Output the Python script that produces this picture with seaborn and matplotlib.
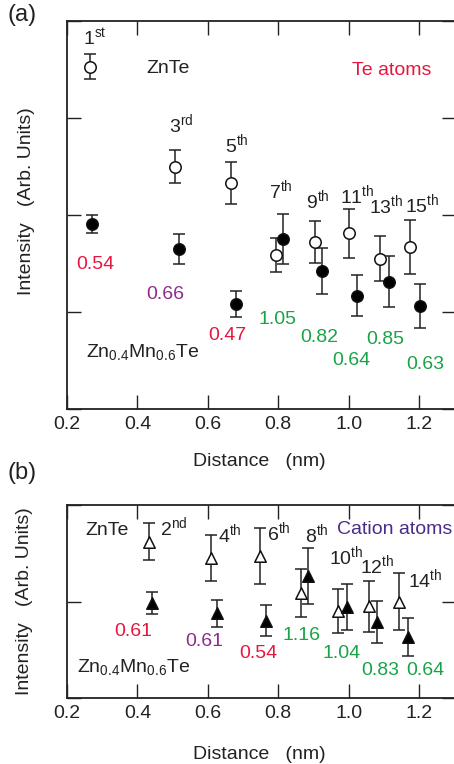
import matplotlib
matplotlib.use('Agg')
import matplotlib.pyplot as plt
import seaborn as sns

sns.set_style('ticks')
plt.rcParams['font.family'] = ['Liberation Sans', 'DejaVu Sans']
FS = 14
plt.rcParams['font.size'] = FS

# Te atoms (panel a)
te_x_znte = [0.265, 0.507, 0.667, 0.794, 0.904, 1.001, 1.090, 1.174]
te_y_znte = [3.53, 2.50, 2.33, 1.59, 1.725, 1.81, 1.55, 1.67]
te_err_znte = [0.13, 0.175, 0.215, 0.175, 0.216, 0.25, 0.23, 0.275]

te_x_mn = [0.270, 0.519, 0.680, 0.813, 0.924, 1.025, 1.116, 1.202]
te_y_mn = [1.91, 1.65, 1.085, 1.75, 1.42, 1.17, 1.31, 1.065]
te_err_mn = [0.093, 0.155, 0.134, 0.258, 0.235, 0.215, 0.263, 0.227]

te_shells = ['1^{st}', '3^{rd}', '5^{th}', '7^{th}', '9^{th}', '11^{th}', '13^{th}', '15^{th}']
te_ratios = ['0.54', '0.66', '0.47', '1.05', '0.82', '0.64', '0.85', '0.63']

# Cation atoms (panel b)
cat_x_znte = [0.433, 0.608, 0.748, 0.864, 0.971, 1.057, 1.144]
cat_y_znte = [1.62, 1.45, 1.47, 1.09, 0.90, 0.95, 1.00]
cat_err_znte = [0.19, 0.234, 0.29, 0.25, 0.23, 0.263, 0.30]

cat_x_mn = [0.442, 0.625, 0.765, 0.886, 0.994, 1.081, 1.169]
cat_y_mn = [0.985, 0.88, 0.80, 1.26, 0.945, 0.79, 0.635]
cat_err_mn = [0.11, 0.14, 0.16, 0.29, 0.24, 0.22, 0.195]

cat_shells = ['2^{nd}', '4^{th}', '6^{th}', '8^{th}', '10^{th}', '12^{th}', '14^{th}']
cat_ratios = ['0.61', '0.61', '0.54', '1.16', '1.04', '0.83', '0.64']

RED = '#e5173f'
PURPLE = '#8e2c8e'
GREEN = '#19a347'
INDIGO = '#4b2c8c'
INK = '#222222'
te_ratio_colors = [RED, PURPLE, RED, GREEN, GREEN, GREEN, GREEN, GREEN]
cat_ratio_colors = [RED, PURPLE, RED, GREEN, GREEN, GREEN, GREEN]

# where the labels sit (data coords)
te_shell_pos = [(0.28, 3.75), (0.524, 2.85), (0.683, 2.65), (0.808, 2.17), (0.913, 2.075),
                (1.025, 2.12), (1.106, 2.017), (1.208, 2.034)]
te_ratio_pos = [(0.28, 1.49), (0.478, 1.185), (0.654, 0.76), (0.799, 0.92), (0.916, 0.74),
                (1.009, 0.50), (1.105, 0.72), (1.219, 0.46)]
cat_shell_pos = [(0.504, 1.683), (0.663, 1.615), (0.802, 1.632), (0.91, 1.615),
                 (0.993, 1.385), (1.082, 1.29), (1.218, 1.15)]
cat_ratio_pos = [(0.388, 0.69), (0.589, 0.59), (0.743, 0.46), (0.867, 0.65),
                 (0.98, 0.46), (1.089, 0.29), (1.217, 0.29)]

W, H = 454, 764
fig = plt.figure(figsize=(W / 100, H / 100), dpi=100)
ax_a = fig.add_axes([67 / W, 1 - 409 / H, 389 / W, 388 / H])
ax_b = fig.add_axes([67 / W, 1 - 698 / H, 389 / W, 193 / H])


def style_axes(ax, ymax):
    ax.set_xlim(0.2, 1.305)
    ax.set_ylim(0, ymax)
    ax.set_xticks([0.2, 0.4, 0.6, 0.8, 1.0, 1.2])
    ax.set_xticklabels(['0.2', '0.4', '0.6', '0.8', '1.0', '1.2'])
    ax.set_yticks(range(0, ymax + 1))
    ax.set_yticklabels([])
    ax.tick_params(direction='in', length=10, width=1, top=True, right=True,
                   labelsize=FS, pad=5, colors=INK)
    for sp in ax.spines.values():
        sp.set_linewidth(1.3)
        sp.set_color(INK)
        sp.set_visible(True)
    ax.set_xlabel('Distance   (nm)', fontsize=FS, color=INK)
    ax.set_ylabel('Intensity   (Arb. Units)', fontsize=FS, color=INK)


def draw_set(ax, x, y, err, marker, face):
    ax.errorbar(x, y, yerr=err, fmt='none', ecolor=INK, elinewidth=1.1,
                capsize=4.2, capthick=1.1, zorder=2)
    sns.scatterplot(x=x, y=y, ax=ax, marker=marker, s=68, color=face,
                    edgecolor='#111111', linewidth=1.1, zorder=3, legend=False)


# panel (a)
style_axes(ax_a, 4)
draw_set(ax_a, te_x_znte, te_y_znte, te_err_znte, 'o', 'white')
draw_set(ax_a, te_x_mn, te_y_mn, te_err_mn, 'o', 'black')
for lab, (px, py) in zip(te_shells, te_shell_pos):
    ax_a.text(px, py, r'$\mathregular{' + lab + '}$', ha='center', va='baseline', color=INK)
for lab, c, (px, py) in zip(te_ratios, te_ratio_colors, te_ratio_pos):
    ax_a.text(px, py, lab, ha='center', va='center', color=c)
ax_a.text(0.487, 3.51, 'ZnTe', ha='center', va='center', color=INK)
ax_a.text(1.123, 3.49, 'Te atoms', ha='center', va='center', color=RED)
ax_a.text(0.415, 0.59, r'$\mathregular{Zn_{0.4}Mn_{0.6}Te}$', ha='center', va='center',
          color=INK)
ax_a.xaxis.set_label_coords(0.494, -0.113)
ax_a.yaxis.set_label_coords(-0.082, 0.536)

# panel (b)
style_axes(ax_b, 2)
draw_set(ax_b, cat_x_znte, cat_y_znte, cat_err_znte, '^', 'white')
draw_set(ax_b, cat_x_mn, cat_y_mn, cat_err_mn, '^', 'black')
for lab, (px, py) in zip(cat_shells, cat_shell_pos):
    ax_b.text(px, py, r'$\mathregular{' + lab + '}$', ha='center', va='baseline', color=INK)
for lab, c, (px, py) in zip(cat_ratios, cat_ratio_colors, cat_ratio_pos):
    ax_b.text(px, py, lab, ha='center', va='center', color=c)
ax_b.text(0.313, 1.74, 'ZnTe', ha='center', va='center', color=INK)
ax_b.text(1.132, 1.75, 'Cation atoms', ha='center', va='center', color=INDIGO)
ax_b.text(0.388, 0.32, r'$\mathregular{Zn_{0.4}Mn_{0.6}Te}$', ha='center', va='center',
          color=INK)
ax_b.xaxis.set_label_coords(0.494, -0.249)
ax_b.yaxis.set_label_coords(-0.087, 0.5)

fig.text(22 / W, 1 - 15 / H, '(a)', ha='center', va='center', fontsize=17, color=INK)
fig.text(22 / W, 1 - 473 / H, '(b)', ha='center', va='center', fontsize=17, color=INK)

fig.savefig('out.png', dpi=100)
